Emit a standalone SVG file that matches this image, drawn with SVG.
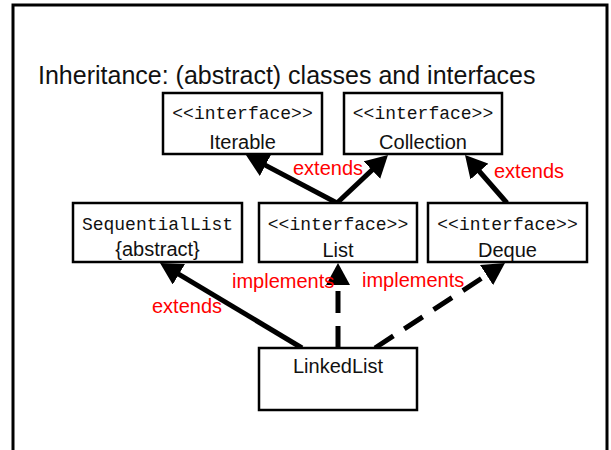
<svg xmlns="http://www.w3.org/2000/svg" width="611" height="450" viewBox="0 0 611 450">
  <style>
    .frame { fill: none; stroke: #000; stroke-width: 3; }
    .box { fill: #fff; stroke: #000; stroke-width: 2.5; }
    .mono { font-family: "Liberation Mono", "DejaVu Sans Mono", monospace; font-size: 18px; fill: #111; text-anchor: middle; }
    .sans { font-family: "Liberation Sans", Arial, sans-serif; font-size: 20px; fill: #111; text-anchor: middle; }
    .title { font-family: "Liberation Sans", Arial, sans-serif; font-size: 25px; fill: #111; }
    .lbl { font-family: "Liberation Sans", Arial, sans-serif; font-size: 20px; fill: #ff0000; }
    .edge { fill: none; stroke: #000; stroke-width: 5; marker-end: url(#head); }
    .dash { stroke-dasharray: 22 13; }
  </style>
  <defs>
    <marker id="head" markerUnits="userSpaceOnUse" viewBox="0 0 22 24" markerWidth="22" markerHeight="24" refX="12" refY="12" orient="auto">
      <path d="M0,0 L22,12 L0,24 z" fill="#000"/>
    </marker>
  </defs>

  <rect width="611" height="450" fill="#fff"/>
  <!-- slide frame, open at the bottom -->
  <path class="frame" d="M13,460 V5 H607 V460"/>

  <text class="title" x="38" y="84">Inheritance: (abstract) classes and interfaces</text>

  <g id="connectors">
    <line class="edge" x1="337" y1="203" x2="254.8" y2="159.7"/>
    <line class="edge" x1="337" y1="203" x2="380.7" y2="161.9"/>
    <line class="edge" x1="507" y1="203" x2="471.6" y2="162.5"/>
    <line class="edge" x1="302" y1="348" x2="168.6" y2="268.1"/>
    <line class="edge dash" x1="338" y1="348" x2="338" y2="273"/>
    <line class="edge dash" x1="375" y1="348" x2="496.6" y2="268.5"/>
    <text class="lbl" x="293" y="175">extends</text>
    <text class="lbl" x="494" y="178">extends</text>
    <text class="lbl" x="152" y="313">extends</text>
    <text class="lbl" x="232" y="288">implements</text>
    <text class="lbl" x="362" y="287">implements</text>
  </g>

  <g id="iterable">
    <rect class="box" x="163" y="93" width="159" height="61"/>
    <text class="mono" x="242.5" y="119">&lt;&lt;interface&gt;&gt;</text>
    <text class="sans" x="242.5" y="149">Iterable</text>
  </g>
  <g id="collection">
    <rect class="box" x="344" y="93" width="158" height="61"/>
    <text class="mono" x="423" y="119">&lt;&lt;interface&gt;&gt;</text>
    <text class="sans" x="423" y="149">Collection</text>
  </g>
  <g id="sequentiallist">
    <rect class="box" x="73" y="203" width="169" height="59"/>
    <text class="mono" x="157.5" y="230">SequentialList</text>
    <text class="sans" x="157.5" y="256">{abstract}</text>
  </g>
  <g id="list">
    <rect class="box" x="259" y="203" width="158" height="59"/>
    <text class="mono" x="338" y="230">&lt;&lt;interface&gt;&gt;</text>
    <text class="sans" x="338" y="257">List</text>
  </g>
  <g id="deque">
    <rect class="box" x="428" y="203" width="159" height="59"/>
    <text class="mono" x="507.5" y="230">&lt;&lt;interface&gt;&gt;</text>
    <text class="sans" x="507.5" y="257">Deque</text>
  </g>
  <g id="linkedlist">
    <rect class="box" x="259" y="348" width="158" height="62"/>
    <text class="sans" x="338" y="373">LinkedList</text>
  </g>
</svg>
